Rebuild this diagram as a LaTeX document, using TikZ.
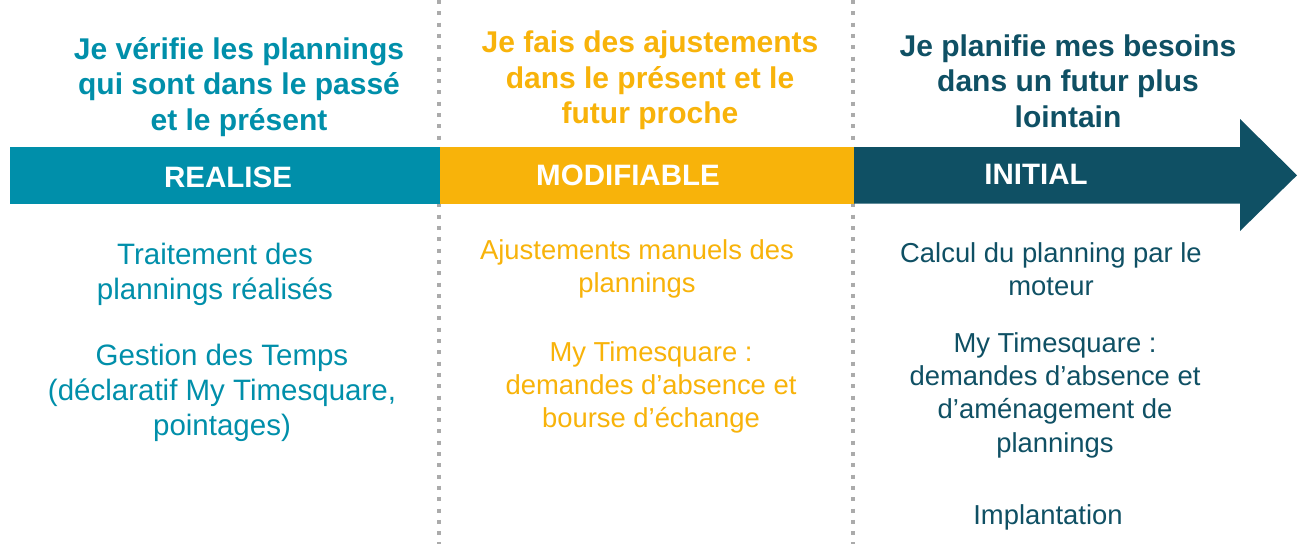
\documentclass[tikz,border=0pt]{standalone}
\usepackage{fontspec}
\setmainfont{Liberation Sans}
\definecolor{cteal}{HTML}{008FAA}
\definecolor{corange}{HTML}{F8B30A}
\definecolor{cnavy}{HTML}{0F5064}
\definecolor{cdot}{HTML}{ABABAB}
\begin{document}
\begin{tikzpicture}[x=1pt,y=-1pt,
  heading/.style={align=center, inner sep=0pt, font=\fontsize{30}{35.5}\selectfont\bfseries},
  bodyA/.style={align=center, inner sep=0pt, font=\fontsize{29.5}{35}\selectfont},
  bodyB/.style={align=center, inner sep=0pt, font=\fontsize{27.4}{33.3}\selectfont},
  bandlabel/.style={inner sep=0pt, text=white, font=\fontsize{29.5}{35}\selectfont\bfseries},
  seg/.style={inner sep=0pt, minimum height=56.5pt, anchor=north west, draw=none, outer sep=0pt},
  sepline/.style={draw=cdot, line width=4pt, dash pattern=on 4pt off 7.3pt}]
\useasboundingbox[fill=white] (0,0) rectangle (1308,544);
% separators
\coordinate (s1t) at (439,0);
\coordinate (s1b) at (439,544);
\coordinate (s2t) at (852.5,0);
\coordinate (s2b) at (852.5,544);
\draw[sepline] (s1t) -- (s1b);
\draw[sepline] (s2t) -- (s2b);
% band
\node[seg, fill=cteal, minimum width=430pt] (realise) at (10,147) {};
\node[seg, fill=corange, minimum width=414pt] (modif) at (440,147) {};
\fill[cnavy] (854,147) -- (1240,147) -- (1240,119) -- (1297,175.3) -- (1240,231) -- (1240,203.5) -- (854,203.5) -- cycle;
\node[bandlabel] (lreal) at (228,177.5) {REALISE};
\node[bandlabel] (lmod) at (628,175.5) {MODIFIABLE};
\node[bandlabel] (linit) at (1036,174.5) {INITIAL};
% headings
\node[heading, text=cteal] (h1) at (239,87) {Je vérifie les plannings\\qui sont dans le passé\\et le présent};
\node[heading, text=corange] (h2) at (650,80.5) {Je fais des ajustements\\dans le présent et le\\futur proche};
\node[heading, text=cnavy] (h3) at (1068,81) {Je planifie mes besoins\\dans un futur plus\\lointain};
% column 1
\node[bodyA, text=cteal] (b11) at (215,274) {Traitement des\\plannings réalisés};
\node[bodyA, text=cteal] (b12) at (222,393) {Gestion des Temps\\(déclaratif My Timesquare,\\pointages)};
% column 2
\node[bodyB, text=corange] (b21) at (637,269) {Ajustements manuels des\\plannings};
\node[bodyB, text=corange] (b22) at (651,387.5) {My Timesquare :\\demandes d’absence et\\bourse d’échange};
% column 3
\node[bodyB, text=cnavy] (b31) at (1051,269.5) {Calcul du planning par le\\moteur};
\node[bodyB, text=cnavy] (b32) at (1055,395) {My Timesquare :\\demandes d’absence et\\d’aménagement de\\plannings};
\node[bodyB, text=cnavy] (b33) at (1048,517) {Implantation};
\end{tikzpicture}
\end{document}
